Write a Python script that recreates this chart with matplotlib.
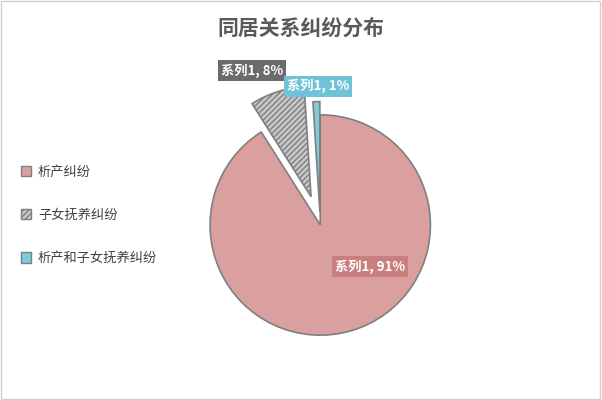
import matplotlib.pyplot as plt
from matplotlib.patches import Patch

plt.rcParams["font.family"] = "Noto Sans CJK SC"
plt.rcParams["hatch.color"] = "#404040"

categories = ["析产纠纷", "子女抚养纠纷", "析产和子女抚养纠纷"]
values = [91, 8, 1]
labels = ["系列1, 91%", "系列1, 8%", "系列1, 1%"]
colors = ["#d9a09f", "#c8c8c8", "#7ecbd9"]
hatches = [None, "//////", None]
explode = [0, 0.27, 0.12]
label_bg = ["#c87f7e", "#6b6b6b", "#6ec4d6"]

fig = plt.figure(figsize=(6.02, 4.0), dpi=100)
fig.patches.append(plt.Rectangle((0.002, 0.003), 0.995, 0.994, transform=fig.transFigure,
                                 fill=False, edgecolor="#d0d0d0", lw=1))
fig.text(0.5, 0.93, "同居关系纠纷分布", ha="center", va="center",
         fontsize=15, fontweight="bold", color="#595959")

ax = fig.add_axes([0.316, 0.1125, 0.432, 0.65])
wedges, _ = ax.pie(values, colors=colors, startangle=90, counterclock=False,
                   explode=explode, radius=1,
                   wedgeprops=dict(edgecolor="#7f7f7f", linewidth=1.2))
for w, h in zip(wedges, hatches):
    if h:
        w.set_hatch(h)
ax.set_xlim(-1.18, 1.18)
ax.set_ylim(-1.18, 1.18)
ax.set_aspect("equal")
ax.axis("off")

# data labels
label_pos = [(0.45, -0.38), (-0.62, 1.4), (-0.02, 1.26)]
for (x, y), t, bg in zip(label_pos, labels, label_bg):
    ax.text(x, y, t, ha="center", va="center", fontsize=9.5, fontweight="bold",
            color="white", bbox=dict(boxstyle="square,pad=0.25", fc=bg, ec="none"))

handles = [Patch(facecolor=c, edgecolor="#7f7f7f", hatch=h) for c, h in zip(colors, hatches)]
fig.legend(handles, categories, loc="center left", bbox_to_anchor=(0.015, 0.462),
           frameon=False, fontsize=9.5, labelcolor="#404040", handlelength=0.8,
           handleheight=0.8, labelspacing=2.3, handletextpad=0.5)

fig.savefig("out.png", dpi=100)
